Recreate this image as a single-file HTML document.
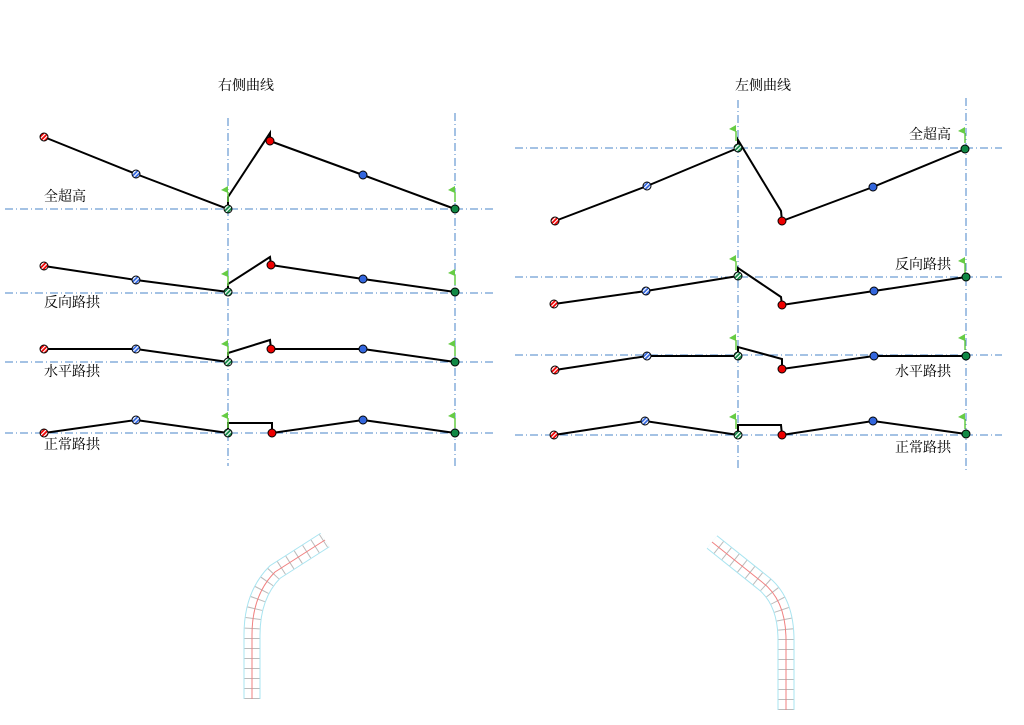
<!DOCTYPE html>
<html><head><meta charset="utf-8"><style>
body{margin:0;background:#fff}
svg text{font-family:"Liberation Serif","Noto Serif CJK SC","Noto Sans CJK SC",serif;font-size:14px;fill:#000}
</style></head><body>
<svg width="1024" height="720" viewBox="0 0 1024 720" xmlns="http://www.w3.org/2000/svg">
<defs>
<pattern id="hr" width="3" height="3" patternUnits="userSpaceOnUse" patternTransform="rotate(45)"><rect width="3" height="3" fill="#e00"/><rect width="1.2" height="3" fill="#fff"/></pattern>
<pattern id="hb" width="3" height="3" patternUnits="userSpaceOnUse" patternTransform="rotate(45)"><rect width="3" height="3" fill="#3366dd"/><rect width="1.2" height="3" fill="#fff"/></pattern>
<pattern id="hg" width="3" height="3" patternUnits="userSpaceOnUse" patternTransform="rotate(45)"><rect width="3" height="3" fill="#118844"/><rect width="1.2" height="3" fill="#fff"/></pattern>
<g id="flag"><line x1="0" y1="0" x2="0" y2="10" stroke="#66cc44" stroke-width="1.5"/><polygon points="0,-6 -7,-2 0,1" fill="#66cc44"/></g>
</defs>
<text x="246" y="90" text-anchor="middle">右侧曲线</text>
<text x="763" y="90" text-anchor="middle">左侧曲线</text>
<g stroke="#4a86c8" stroke-width="1" stroke-dasharray="8,3,1,3" fill="none">
<line x1="228" y1="118" x2="228" y2="466"/><line x1="455" y1="113" x2="455" y2="466"/>
<line x1="5" y1="209" x2="495" y2="209"/><line x1="5" y1="293" x2="495" y2="293"/>
<line x1="5" y1="362" x2="495" y2="362"/><line x1="5" y1="433" x2="495" y2="433"/>
<line x1="738" y1="100" x2="738" y2="470"/><line x1="966" y1="98" x2="966" y2="470"/>
<line x1="515" y1="148" x2="1002" y2="148"/><line x1="515" y1="277" x2="1002" y2="277"/>
<line x1="515" y1="355" x2="1002" y2="355"/><line x1="515" y1="435" x2="1002" y2="435"/>
</g>
<g stroke="#000" stroke-width="2" fill="none">
<polyline points="44,137 136,174 228,209 228,197 270,133 270,141 363,175 455,209"/>
<polyline points="44,266 136,280 228,292 228,284 270,257 271,265 363,279 455,292"/>
<polyline points="44,349 136,349 228,362 228,353 270,340 271,349 363,349 455,362"/>
<polyline points="44,433 136,420 228,433 228,423 272,423 272,433 363,420 455,433"/>
<polyline points="555,221 647,186 738,148 738,140 781,211 782,221 873,187 965,149"/>
<polyline points="554,304 646,291 738,276 738,268 781,297 782,305 874,291 966,277"/>
<polyline points="555,370 647,356 738,356 738,347 782,359 782,369 874,356 966,356"/>
<polyline points="554,435 645,421 738,435 738,425 781,425 782,435 873,421 966,434"/>
</g>
<g>
<use href="#flag" x="228" y="192"/><use href="#flag" x="455" y="192"/>
<use href="#flag" x="228" y="276"/><use href="#flag" x="455" y="275"/>
<use href="#flag" x="228" y="346"/><use href="#flag" x="455" y="346"/>
<use href="#flag" x="228" y="418"/><use href="#flag" x="455" y="418"/>
<use href="#flag" x="736" y="131"/><use href="#flag" x="965" y="133"/>
<use href="#flag" x="736" y="261"/><use href="#flag" x="965" y="263"/>
<use href="#flag" x="736" y="340"/><use href="#flag" x="965" y="340"/>
<use href="#flag" x="736" y="419"/><use href="#flag" x="965" y="419"/>
</g>
<g stroke="#000" stroke-width="1">
<circle cx="44" cy="137" r="4" fill="url(#hr)"/><circle cx="136" cy="174" r="4" fill="url(#hb)"/><circle cx="228" cy="209" r="4" fill="url(#hg)"/><circle cx="270" cy="141" r="4" fill="#e00"/><circle cx="363" cy="175" r="4" fill="#3366dd"/><circle cx="455" cy="209" r="4" fill="#118844"/>
<circle cx="44" cy="266" r="4" fill="url(#hr)"/><circle cx="136" cy="280" r="4" fill="url(#hb)"/><circle cx="228" cy="292" r="4" fill="url(#hg)"/><circle cx="271" cy="265" r="4" fill="#e00"/><circle cx="363" cy="279" r="4" fill="#3366dd"/><circle cx="455" cy="292" r="4" fill="#118844"/>
<circle cx="44" cy="349" r="4" fill="url(#hr)"/><circle cx="136" cy="349" r="4" fill="url(#hb)"/><circle cx="228" cy="362" r="4" fill="url(#hg)"/><circle cx="271" cy="349" r="4" fill="#e00"/><circle cx="363" cy="349" r="4" fill="#3366dd"/><circle cx="455" cy="362" r="4" fill="#118844"/>
<circle cx="44" cy="433" r="4" fill="url(#hr)"/><circle cx="136" cy="420" r="4" fill="url(#hb)"/><circle cx="228" cy="433" r="4" fill="url(#hg)"/><circle cx="272" cy="433" r="4" fill="#e00"/><circle cx="363" cy="420" r="4" fill="#3366dd"/><circle cx="455" cy="433" r="4" fill="#118844"/>
<circle cx="555" cy="221" r="4" fill="url(#hr)"/><circle cx="647" cy="186" r="4" fill="url(#hb)"/><circle cx="738" cy="148" r="4" fill="url(#hg)"/><circle cx="782" cy="221" r="4" fill="#e00"/><circle cx="873" cy="187" r="4" fill="#3366dd"/><circle cx="965" cy="149" r="4" fill="#118844"/>
<circle cx="554" cy="304" r="4" fill="url(#hr)"/><circle cx="646" cy="291" r="4" fill="url(#hb)"/><circle cx="738" cy="276" r="4" fill="url(#hg)"/><circle cx="782" cy="305" r="4" fill="#e00"/><circle cx="874" cy="291" r="4" fill="#3366dd"/><circle cx="966" cy="277" r="4" fill="#118844"/>
<circle cx="555" cy="370" r="4" fill="url(#hr)"/><circle cx="647" cy="356" r="4" fill="url(#hb)"/><circle cx="738" cy="356" r="4" fill="url(#hg)"/><circle cx="782" cy="369" r="4" fill="#e00"/><circle cx="874" cy="356" r="4" fill="#3366dd"/><circle cx="966" cy="356" r="4" fill="#118844"/>
<circle cx="554" cy="435" r="4" fill="url(#hr)"/><circle cx="645" cy="421" r="4" fill="url(#hb)"/><circle cx="738" cy="435" r="4" fill="url(#hg)"/><circle cx="782" cy="435" r="4" fill="#e00"/><circle cx="873" cy="421" r="4" fill="#3366dd"/><circle cx="966" cy="434" r="4" fill="#118844"/>
</g>
<text x="44" y="201">全超高</text><text x="44" y="307">反向路拱</text><text x="44" y="376">水平路拱</text><text x="44" y="449">正常路拱</text>
<text x="951" y="139" text-anchor="end">全超高</text><text x="951" y="269" text-anchor="end">反向路拱</text><text x="951" y="376" text-anchor="end">水平路拱</text><text x="951" y="452" text-anchor="end">正常路拱</text>
<g fill="none">
<path d="M252,699 L252,635 Q252,595 275,572 L325,540" stroke="#a8e4f0" stroke-width="17"/>
<path d="M252,699 L252,635 Q252,595 275,572 L325,540" stroke="#fff" stroke-width="15"/>
<path d="M252,699 L252,635 Q252,595 275,572 L325,540" stroke="#bbb" stroke-width="15" stroke-dasharray="1,9"/>
<path d="M252,699 L252,635 Q252,595 275,572 L325,540" stroke="#f08080" stroke-width="1"/>
<path d="M786,710 L786,640 Q786,600 762,582 L712,542" stroke="#a8e4f0" stroke-width="17"/>
<path d="M786,710 L786,640 Q786,600 762,582 L712,542" stroke="#fff" stroke-width="15"/>
<path d="M786,710 L786,640 Q786,600 762,582 L712,542" stroke="#bbb" stroke-width="15" stroke-dasharray="1,9"/>
<path d="M786,710 L786,640 Q786,600 762,582 L712,542" stroke="#f08080" stroke-width="1"/>
</g>
</svg>
</body></html>
